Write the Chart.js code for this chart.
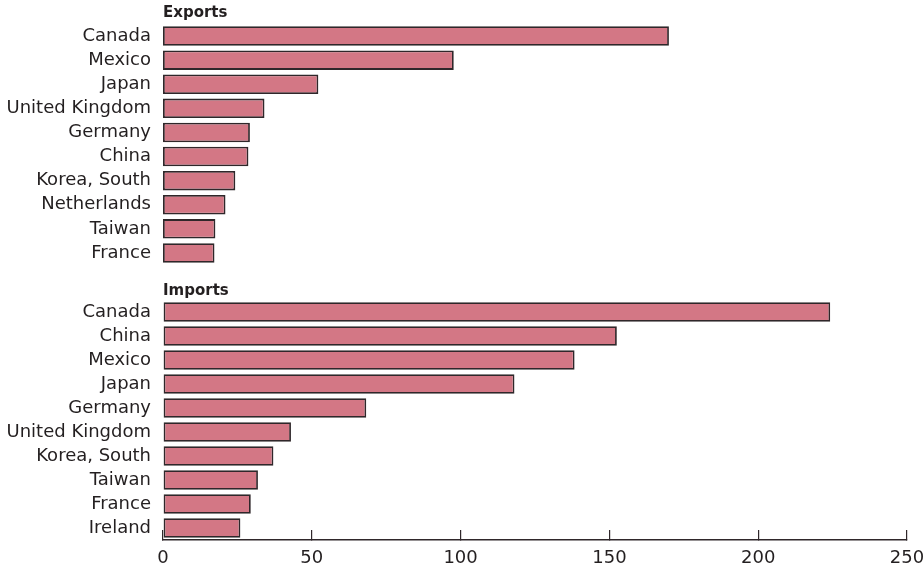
<!DOCTYPE html>
<html>
<head>
<meta charset="utf-8">
<script src="https://cdn.jsdelivr.net/npm/chart.js@4"></script>
<style>
  html, body { margin: 0; padding: 0; background: #fff; overflow: hidden; }
  #wrap { position: relative; width: 923px; height: 568px; }
  .box { position: absolute; left: 0; width: 923px; }
  #top { top: 0; height: 265px; }
  #bottom { top: 266px; height: 302px; }
</style>
</head>
<body>
<div id="wrap">
  <div class="box" id="top"><canvas id="exportsChart"></canvas></div>
  <div class="box" id="bottom"><canvas id="importsChart"></canvas></div>
</div>
<script>
// trade partners, billions of dollars
var exportCountries = ['Canada', 'Mexico', 'Japan', 'United Kingdom', 'Germany', 'China', 'Korea, South', 'Netherlands', 'Taiwan', 'France'];
var exportValues = [170.0, 97.7, 52.2, 34.1, 29.2, 28.7, 24.3, 21.0, 17.6, 17.3];

var importCountries = ['Canada', 'China', 'Mexico', 'Japan', 'Germany', 'United Kingdom', 'Korea, South', 'Taiwan', 'France', 'Ireland'];
var importValues = [224.2, 152.5, 138.3, 118.1, 68.3, 43.0, 37.1, 31.9, 29.5, 26.0];

var xTicks = [0, 50, 100, 150, 200, 250];

var barFill = '#d37785';
var barEdge = '#2f272a';
var textColor = '#231f20';
var font = 'DejaVu Sans';

Chart.defaults.font.family = font;
Chart.defaults.color = textColor;

function makeChart(id, title, labels, values, showAxis, titlePad) {
  var ctx = document.getElementById(id).getContext('2d');
  return new Chart(ctx, {
    type: 'bar',
    data: {
      labels: labels,
      datasets: [{
        data: values,
        backgroundColor: barFill,
        borderColor: barEdge,
        borderWidth: 1.8,
        borderSkipped: false,
        categoryPercentage: 1,
        barPercentage: 0.81
      }]
    },
    options: {
      indexAxis: 'y',
      responsive: true,
      maintainAspectRatio: false,
      animation: false,
      layout: { padding: { left: 0, right: 16, top: 0, bottom: 0 } },
      plugins: {
        legend: { display: false },
        tooltip: { enabled: false },
        title: {
          display: true,
          text: title,
          align: 'start',
          fullSize: false,
          color: textColor,
          font: { family: font, size: 15, weight: 'bold' },
          padding: titlePad
        }
      },
      scales: {
        x: {
          display: showAxis,
          min: 0,
          max: 250,
          afterBuildTicks: function (scale) {
            scale.ticks = xTicks.map(function (v) { return { value: v }; });
          },
          afterFit: function (scale) {
            scale.paddingLeft = 0;
            scale.paddingRight = 0;
            if (showAxis) scale.height = 28;
          },
          grid: { drawOnChartArea: false, drawTicks: true, tickLength: -10, color: barEdge, lineWidth: 1.2 },
          border: { display: true, color: barEdge, width: 1.5 },
          ticks: { padding: 18, maxRotation: 0, font: { size: 18 }, color: textColor }
        },
        y: {
          grid: { display: false, drawTicks: false },
          border: { display: false },
          ticks: { padding: 12, font: { size: 18 }, color: textColor, autoSkip: false },
          afterFit: function (scale) {
            scale.width = 163;
            scale.paddingTop = 0;
            scale.paddingBottom = 0;
          }
        }
      }
    }
  });
}

makeChart('exportsChart', 'Exports', exportCountries, exportValues, false, { top: 4, bottom: 2 });
makeChart('importsChart', 'Imports', importCountries, importValues, true, { top: 16, bottom: 0 });
</script>
</body>
</html>
